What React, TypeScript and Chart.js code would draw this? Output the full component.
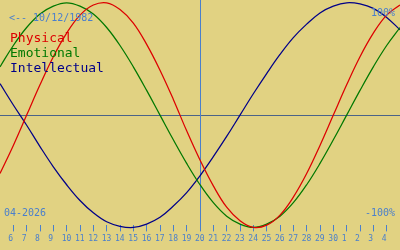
import React, { useEffect, useRef } from 'react';
import { Chart, registerables } from 'chart.js';

Chart.register(...registerables);

// Day index along the x axis (5 = 5 April 2026 ... 35 = 5 May 2026)
const days = [5, 6, 7, 8, 9, 10, 11, 12, 13, 14, 15, 16, 17, 18, 19, 20, 21, 22, 23, 24, 25, 26, 27, 28, 29, 30, 31, 32, 33, 34, 35];
// Tick labels for days 6..34
const dayLabels = ['6', '7', '8', '9', '10', '11', '12', '13', '14', '15', '16', '17', '18', '19', '20', '21', '22', '23', '24', '25', '26', '27', '28', '29', '30', '1', '2', '3', '4'];

const physical = [-0.52, -0.27, 0, 0.27, 0.52, 0.73, 0.89, 0.98, 1.0, 0.94, 0.82, 0.63, 0.4, 0.14, -0.14, -0.4, -0.63, -0.82, -0.94, -1.0, -0.98, -0.89, -0.73, -0.52, -0.27, 0, 0.27, 0.52, 0.73, 0.89, 0.98];
const emotional = [0.43, 0.62, 0.78, 0.9, 0.97, 1.0, 0.97, 0.9, 0.78, 0.62, 0.43, 0.22, 0, -0.22, -0.43, -0.62, -0.78, -0.9, -0.97, -1.0, -0.97, -0.9, -0.78, -0.62, -0.43, -0.22, 0, 0.22, 0.43, 0.62, 0.78];
const intellectual = [0.28, 0.09, -0.09, -0.28, -0.46, -0.62, -0.76, -0.87, -0.95, -0.99, -1.0, -0.97, -0.91, -0.81, -0.69, -0.54, -0.37, -0.19, 0, 0.19, 0.37, 0.54, 0.69, 0.81, 0.91, 0.97, 1.0, 0.99, 0.95, 0.87, 0.76];

const seriesNames = ['Physical', 'Emotional', 'Intellectual'];
const seriesColors = ['#dd0000', '#007800', '#000088'];
const birthLabel = '<-- 10/12/1982';
const monthLabel = '04-2026';
const topLabel = '100%';
const bottomLabel = '-100%';
const todayDay = 20;

const BG = '#e1d282';
const BLUE = '#4a7fcc';
const MONO = '"DejaVu Sans Mono", monospace';

const overlayPlugin = {
  id: 'bioOverlay',
  beforeDatasetsDraw(chart: any) {
    const { ctx, chartArea, scales } = chart;
    const x = Math.round(scales.x.getPixelForValue(todayDay)) + 0.5;
    const y = Math.round(scales.y.getPixelForValue(0)) + 0.5;
    ctx.save();
    ctx.lineWidth = 1;
    ctx.strokeStyle = '#4b6388';
    ctx.beginPath();
    ctx.moveTo(chartArea.left, y);
    ctx.lineTo(chartArea.right, y);
    ctx.stroke();
    ctx.strokeStyle = BLUE;
    ctx.beginPath();
    ctx.moveTo(x, 0);
    ctx.lineTo(x, chartArea.bottom);
    ctx.stroke();
    ctx.restore();
  },
  afterDraw(chart: any) {
    const { ctx } = chart;
    ctx.save();
    ctx.textBaseline = 'alphabetic';
    ctx.textAlign = 'left';
    ctx.font = `10px ${MONO}`;
    ctx.fillStyle = BLUE;
    ctx.fillText(birthLabel, 9, 21);
    ctx.fillText(monthLabel, 4, 216);
    ctx.textAlign = 'right';
    ctx.fillText(topLabel, 395, 16);
    ctx.fillText(bottomLabel, 395, 216);
    ctx.textAlign = 'left';
    ctx.font = `13px ${MONO}`;
    seriesNames.forEach((n, i) => {
      ctx.fillStyle = seriesColors[i];
      ctx.fillText(n, 10, 42 + i * 15);
    });
    ctx.restore();
  },
};

export default function App() {
  const ref = useRef<HTMLCanvasElement | null>(null);
  useEffect(() => {
    document.body.style.margin = '0';
    const canvas = ref.current!;
    const series = [physical, emotional, intellectual];
    const chart = new Chart(canvas, {
      type: 'line',
      data: {
        datasets: series.map((s, k) => ({
          label: seriesNames[k],
          data: days.map((d, i) => ({ x: d, y: s[i] })),
          borderColor: seriesColors[k],
          borderWidth: 1.25,
          pointRadius: 0,
          tension: 0.4,
          fill: false,
          clip: false as any,
        })),
      },
      options: {
        animation: false,
        responsive: false,
        events: [],
        layout: { padding: { left: 0, right: 0, top: 0, bottom: 3 } },
        plugins: { legend: { display: false }, tooltip: { enabled: false } },
        scales: {
          x: {
            type: 'linear',
            min: days[0],
            max: days[days.length - 1],
            afterBuildTicks: (scale: any) => {
              scale.ticks = dayLabels.map((_, i) => ({ value: i + 6 }));
            },
            grid: { drawOnChartArea: false, drawTicks: true, tickLength: 6, color: BLUE, lineWidth: 1 },
            border: { display: false },
            ticks: {
              autoSkip: false,
              maxRotation: 0,
              align: 'start',
              labelOffset: -5,
              padding: 3,
              color: BLUE,
              font: { family: MONO, size: 8 },
              callback: (v: any) => dayLabels[Math.round(v) - 6] ?? '',
            },
          },
          y: { display: false, min: -0.982, max: 1.025 },
        },
      },
      plugins: [overlayPlugin],
    } as any);
    return () => chart.destroy();
  }, []);
  return (
    <div style={{ width: 400, height: 250, background: BG }}>
      <canvas ref={ref} width={400} height={250} style={{ display: 'block' }} />
    </div>
  );
}
